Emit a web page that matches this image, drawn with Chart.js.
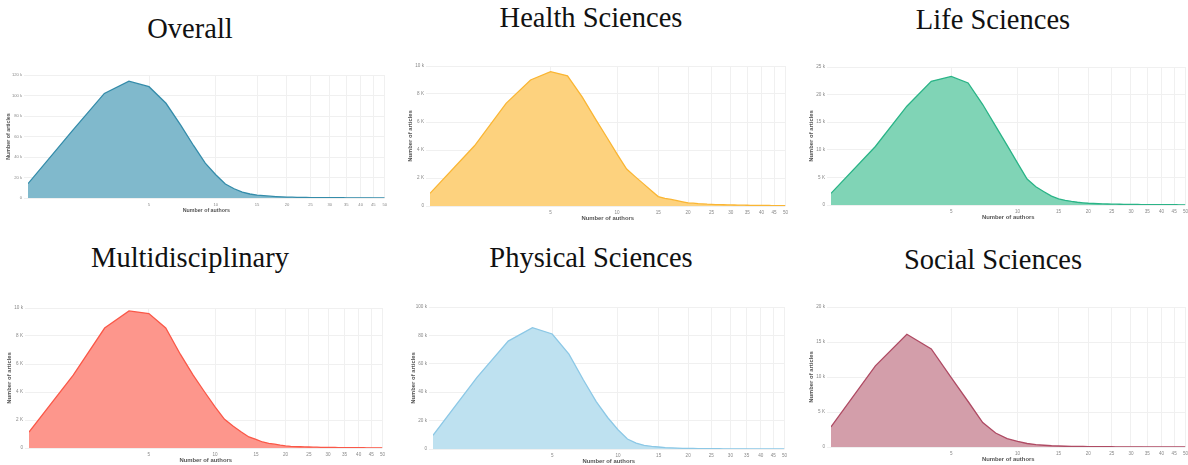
<!DOCTYPE html>
<html>
<head>
<meta charset="utf-8">
<script src="https://cdn.jsdelivr.net/npm/chart.js@4.4.1/dist/chart.umd.min.js"></script>
<style>
  html, body { margin: 0; padding: 0; background: #fff; overflow: hidden; width: 1188px; height: 465px; }
  .panel-title {
    position: absolute;
    font-family: "Liberation Serif", "Times New Roman", serif;
    font-size: 28.5px;
    line-height: 28.5px;
    white-space: nowrap;
    transform: translateX(-50%);
    color: #111;
  }
  .chart-box { position: absolute; }
  .chart-box canvas { display: block; }
</style>
</head>
<body>

<script>
// Number of authors per article (x categories)
const authors = [1, 2, 3, 4, 5, 6, 7, 8, 9, 10,
  11, 12, 13, 14, 15, 16, 17, 18, 19, 20,
  21, 22, 23, 24, 25, 26, 27, 28, 29, 30,
  31, 32, 33, 34, 35, 36, 37, 38, 39, 40,
  41, 42, 43, 44, 45, 46, 47, 48, 49, 50];

// Number of articles for each author count, per field
const overallArticles = [14000, 66000, 102000, 114000, 108600, 92400, 71000, 51000, 34000, 22700,
  13600, 9000, 5800, 3900, 2900, 2300, 1800, 1400, 1100, 900,
  760, 650, 560, 500, 450, 400, 370, 340, 310, 290,
  270, 250, 235, 220, 205, 195, 185, 175, 165, 155,
  148, 140, 133, 127, 121, 115, 110, 105, 100, 96];

const healthArticles = [900, 4300, 7330, 9000, 9600, 9300, 7800, 6260, 4930, 3710,
  2640, 2080, 1580, 1100, 670, 550, 470, 380, 300, 230,
  200, 170, 150, 130, 120, 105, 95, 88, 82, 76,
  70, 66, 62, 58, 54, 51, 48, 45, 42, 40,
  38, 36, 34, 32, 30, 29, 28, 27, 26, 25];

const lifeArticles = [2100, 10600, 17900, 22400, 23300, 22100, 18200, 14300, 10800, 7600,
  4700, 3300, 2400, 1600, 1100, 850, 650, 500, 400, 320,
  270, 230, 200, 180, 160, 145, 132, 120, 110, 100,
  94, 88, 82, 77, 72, 68, 64, 60, 57, 54,
  51, 49, 47, 45, 43, 41, 40, 39, 38, 37];

const multiArticles = [1140, 5200, 8570, 9790, 9600, 8570, 6700, 5200, 4000, 2930,
  2050, 1550, 1140, 790, 620, 430, 330, 270, 200, 150,
  120, 100, 90, 80, 70, 62, 56, 50, 45, 40,
  37, 34, 31, 29, 27, 25, 23, 21, 20, 19,
  18, 17, 16, 15, 14, 13, 12, 12, 11, 10];

const physicalArticles = [9600, 50500, 76000, 85500, 81000, 66800, 48600, 33400, 22200, 13600,
  7000, 4200, 2600, 1800, 1400, 1000, 800, 620, 500, 400,
  340, 290, 250, 220, 200, 180, 165, 150, 138, 127,
  118, 110, 102, 95, 89, 84, 79, 75, 71, 67,
  64, 61, 58, 55, 53, 51, 49, 47, 45, 43];

const socialArticles = [2860, 11600, 16100, 14000, 9900, 6500, 3500, 2000, 1200, 800,
  500, 350, 250, 180, 140, 110, 90, 78, 68, 60,
  53, 47, 42, 38, 34, 31, 28, 26, 24, 22,
  20, 19, 18, 17, 16, 15, 14, 13, 12, 12,
  11, 11, 10, 10, 9, 9, 8, 8, 8, 7];

// Axis ticks
const xTickValues = [5, 10, 15, 20, 25, 30, 35, 40, 45, 50];
const xTickLabels = ['5', '10', '15', '20', '25', '30', '35', '40', '45', '50'];

const overallYTicks = [0, 20000, 40000, 60000, 80000, 100000, 120000];
const overallYLabels = ['0', '20 k', '40 k', '60 k', '80 k', '100 k', '120 k'];
const healthYTicks = [0, 2000, 4000, 6000, 8000, 10000];
const healthYLabels = ['0', '2 K', '4 K', '6 K', '8 K', '10 k'];
const lifeYTicks = [0, 5000, 10000, 15000, 20000, 25000];
const lifeYLabels = ['0', '5 K', '10 k', '15 k', '20 k', '25 k'];
const multiYTicks = [0, 2000, 4000, 6000, 8000, 10000];
const multiYLabels = ['0', '2 K', '4 K', '6 K', '8 K', '10 k'];
const physicalYTicks = [0, 20000, 40000, 60000, 80000, 100000];
const physicalYLabels = ['0', '20 k', '40 k', '60 k', '80 k', '100 k'];
const socialYTicks = [0, 5000, 10000, 15000, 20000];
const socialYLabels = ['0', '5 K', '10 k', '15 k', '20 k'];

// The author axis is spaced by log10(n + 1)
const authorPos = n => Math.log10(n + 1);

const Y_AXIS_W = 28, X_AXIS_H = 17, PAD_TOP = 6, PAD_RIGHT = 6;
const GRID_COLOR = '#f0f0f0';

const panels = [
  { title: 'Overall', titleX: 190, titleBase: 39,
    plot: { l: 28, r: 385, t: 75, b: 198 }, fontScale: 0.9,
    values: overallArticles, yTicks: overallYTicks, yLabels: overallYLabels,
    line: 'rgb(52,140,170)', fill: 'rgb(128,185,204)' },
  { title: 'Health Sciences', titleX: 591, titleBase: 28,
    plot: { l: 430, r: 786, t: 66, b: 206 }, fontScale: 1,
    values: healthArticles, yTicks: healthYTicks, yLabels: healthYLabels,
    line: 'rgb(250,182,52)', fill: 'rgb(253,210,126)' },
  { title: 'Life Sciences', titleX: 993, titleBase: 30,
    plot: { l: 831, r: 1186, t: 67, b: 205 }, fontScale: 1,
    values: lifeArticles, yTicks: lifeYTicks, yLabels: lifeYLabels,
    line: 'rgb(42,180,135)', fill: 'rgb(128,212,182)' },
  { title: 'Multidisciplinary', titleX: 190, titleBase: 268,
    plot: { l: 29, r: 383, t: 308, b: 448 }, fontScale: 1,
    values: multiArticles, yTicks: multiYTicks, yLabels: multiYLabels,
    line: 'rgb(250,88,72)', fill: 'rgb(253,150,140)' },
  { title: 'Physical Sciences', titleX: 591, titleBase: 268,
    plot: { l: 433, r: 785, t: 307, b: 449 }, fontScale: 1,
    values: physicalArticles, yTicks: physicalYTicks, yLabels: physicalYLabels,
    line: 'rgb(140,200,230)', fill: 'rgb(190,225,240)' },
  { title: 'Social Sciences', titleX: 993, titleBase: 270,
    plot: { l: 831, r: 1186, t: 307, b: 447 }, fontScale: 1,
    values: socialArticles, yTicks: socialYTicks, yLabels: socialYLabels,
    line: 'rgb(175,75,100)', fill: 'rgb(211,158,170)' }
];

panels.forEach(p => {
  // Panel heading
  const h = document.createElement('div');
  h.className = 'panel-title';
  h.textContent = p.title;
  h.style.left = p.titleX + 'px';
  h.style.top = (p.titleBase - 23.8) + 'px';
  document.body.appendChild(h);

  // Chart canvas sized so the plot area lands on p.plot
  const left = p.plot.l - Y_AXIS_W;
  const top = p.plot.t - PAD_TOP;
  const width = p.plot.r + PAD_RIGHT - left;
  const height = p.plot.b + X_AXIS_H - top;

  const box = document.createElement('div');
  box.className = 'chart-box';
  box.style.left = left + 'px';
  box.style.top = top + 'px';
  box.style.width = width + 'px';
  box.style.height = height + 'px';
  const canvas = document.createElement('canvas');
  canvas.width = width;
  canvas.height = height;
  box.appendChild(canvas);
  document.body.appendChild(box);

  const fs = p.fontScale;
  const tickFont = { family: '"Liberation Sans", Arial, sans-serif', size: 4.6 * fs };
  const titleFont = { family: '"Liberation Sans", Arial, sans-serif', size: 5.9 * fs, weight: 'bold' };

  new Chart(canvas, {
    type: 'line',
    data: {
      datasets: [{
        data: authors.map((n, i) => ({ x: authorPos(n), y: p.values[i] })),
        borderColor: p.line,
        backgroundColor: p.fill,
        fill: 'origin',
        borderWidth: 1.3,
        pointRadius: 0,
        tension: 0
      }]
    },
    options: {
      responsive: false,
      animation: false,
      devicePixelRatio: 1,
      layout: { padding: { top: PAD_TOP, right: PAD_RIGHT, left: 0, bottom: 0 } },
      plugins: { legend: { display: false }, tooltip: { enabled: false } },
      scales: {
        x: {
          type: 'linear',
          min: authorPos(1),
          max: authorPos(50),
          afterBuildTicks: s => { s.ticks = xTickValues.map(v => ({ value: authorPos(v) })); },
          afterFit: s => { s.height = X_AXIS_H; },
          ticks: {
            autoSkip: false, maxRotation: 0, padding: 4,
            font: tickFont, color: '#888',
            callback: (v, i) => xTickLabels[i]
          },
          grid: { color: GRID_COLOR, drawTicks: false },
          border: { display: false },
          title: {
            display: true, text: 'Number of authors',
            font: titleFont, color: '#555',
            padding: { top: 0, bottom: 1 }
          }
        },
        y: {
          min: 0,
          max: p.yTicks[p.yTicks.length - 1],
          afterBuildTicks: s => { s.ticks = p.yTicks.map(v => ({ value: v })); },
          afterFit: s => { s.width = Y_AXIS_W; },
          ticks: {
            padding: 2, font: tickFont, color: '#888',
            callback: (v, i) => p.yLabels[i]
          },
          grid: { color: GRID_COLOR, tickLength: 4 },
          border: { display: false },
          title: {
            display: true, text: 'Number of articles',
            font: titleFont, color: '#555',
            padding: { top: 5, bottom: 0 }
          }
        }
      }
    }
  });
});
</script>
</body>
</html>
